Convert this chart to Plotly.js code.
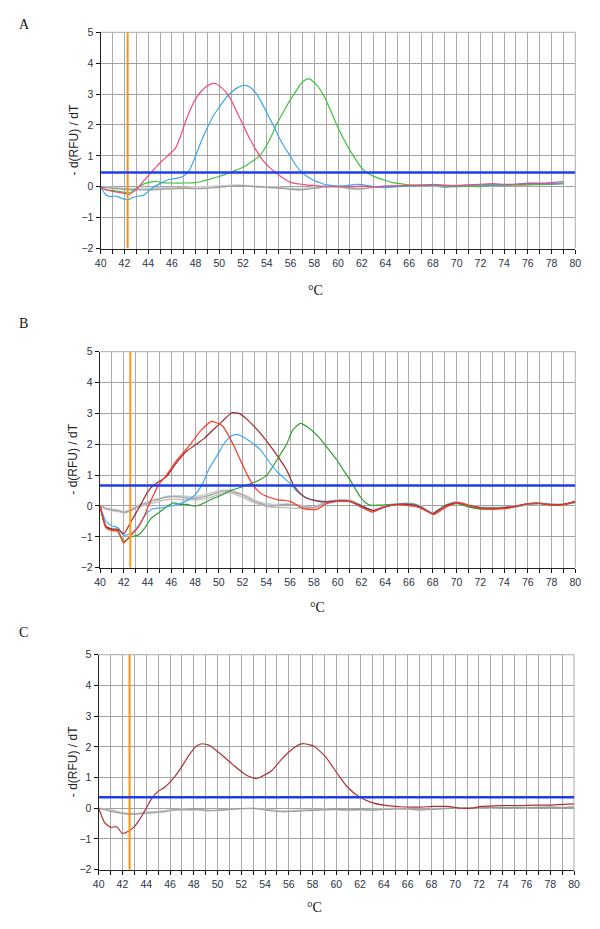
<!DOCTYPE html>
<html>
<head>
<meta charset="utf-8">
<script src="https://cdn.plot.ly/plotly-3.0.1.min.js"></script>
<style>html,body{margin:0;padding:0;background:#fff;}#chart{width:600px;height:929px;}</style>
</head>
<body>
<div id="chart"></div>
<script>
// ---------- Panel A ----------
const aPinkX = [40,40.4,41,41.5,42,42.4,42.8,43.2,43.7,44.2,44.7,45.2,45.8,46.3,46.7,47.0,47.5,48.0,48.5,49.0,49.4,49.8,50.2,50.6,51.0,51.5,52.0,52.5,53.0,53.4,53.9,54.4,54.8,55.3,56.0,56.5,57.0,57.5,58.0,58.5,59,60,61,62,63,64,65,66,67,68,69,70,71,72,73,74,75,76,77,78,79];
const aPinkY = [0,-0.1,-0.15,-0.18,-0.22,-0.25,-0.15,0,0.22,0.44,0.65,0.85,1.05,1.25,1.6,1.95,2.45,2.85,3.1,3.27,3.34,3.32,3.2,3.05,2.8,2.4,2.0,1.6,1.25,1.0,0.75,0.57,0.45,0.3,0.14,0.1,0.08,0.05,0.04,0.02,0.0,0.0,0.0,0.02,0.0,0.02,0.03,0.04,0.05,0.08,0.05,0.03,0.05,0.08,0.1,0.08,0.08,0.1,0.1,0.13,0.17];
const aBlueX = [40,40.4,40.8,41.2,41.6,42,42.3,42.7,43.2,43.6,44,44.5,45,45.5,46,46.5,47,47.5,48,48.5,49.1,49.5,50,50.5,51,51.5,52.1,52.6,53.1,53.6,54.1,54.6,55.0,55.5,56.0,56.4,56.9,57.4,57.9,58.4,58.9,59.5,60,61,61.5,62,63,64,65,66,67,68,69,70,71,72,73,74,75,76,77,78,79];
const aBlueY = [0,-0.25,-0.32,-0.3,-0.35,-0.4,-0.42,-0.35,-0.3,-0.28,-0.15,0,0.1,0.2,0.25,0.28,0.35,0.55,1.0,1.5,2.0,2.3,2.58,2.85,3.05,3.2,3.28,3.22,3.02,2.7,2.32,1.95,1.62,1.28,0.98,0.72,0.48,0.33,0.22,0.14,0.07,0.04,0.02,0.05,0.08,0.07,0.0,-0.03,0.0,0.03,0.04,0.05,0.03,0.03,0.05,0.06,0.07,0.05,0.08,0.12,0.12,0.1,0.12];
const aGreenX = [40,40.5,41,41.5,42,42.4,42.8,43.2,43.7,44.2,44.7,45.2,46,47,48,48.5,49,49.5,50,50.5,51,51.5,52,52.5,53,53.4,54,54.4,54.8,55.3,55.8,56.3,56.8,57.2,57.6,58.2,58.8,59.4,59.9,60.4,60.9,61.3,61.9,62.4,62.9,63.4,64,64.6,65.2,66,67,68,69,70,71,72,73,74,75,76,77,78,79];
const aGreenY = [0,-0.1,-0.12,-0.15,-0.18,-0.2,-0.12,0,0.1,0.15,0.17,0.13,0.12,0.12,0.13,0.17,0.22,0.28,0.33,0.4,0.47,0.55,0.63,0.75,0.88,1.0,1.35,1.65,2.0,2.35,2.7,3.0,3.3,3.45,3.49,3.3,2.95,2.45,2.0,1.6,1.25,1.0,0.65,0.46,0.36,0.28,0.2,0.13,0.1,0.06,0.05,0.05,0.02,0.0,0.02,0.0,0.05,0.05,0.06,0.06,0.07,0.08,0.1];
const aGrayX = [40,40.5,41,42,43,44,45,46,47,48,49,50,51,52,53,54,55,56,57,58,59,60,61,62,63,64,65,66,67,68,69,70,71,72,73,74,75,76,77,78,79];
const aGray1Y = [0,-0.03,-0.05,-0.08,-0.1,-0.1,-0.08,-0.07,-0.05,-0.06,-0.05,-0.02,0.02,0.03,0.0,-0.02,-0.04,-0.08,-0.1,-0.05,0.0,0.0,-0.04,-0.06,-0.02,0.0,0.02,0.03,0.02,0.04,-0.02,0.02,0.04,0.05,0.05,0.06,0.06,0.07,0.08,0.08,0.1];
const aGray2Y = [0,-0.01,-0.02,-0.05,-0.06,-0.05,-0.04,-0.03,-0.02,0.0,0.0,0.03,0.05,0.05,0.02,0.0,-0.02,-0.05,-0.06,0.0,0.02,0.03,-0.08,-0.08,0.0,0.01,0.03,0.04,0.03,0.05,0.0,0.05,0.05,0.06,0.05,0.06,0.07,0.08,0.1,0.1,0.12];
const aCursor = 42.27;
const aThreshold = 0.46;

// ---------- Panel B ----------
const bRedX = [40,40.5,41,41.5,42,42.6,43.2,43.7,44.07,44.5,44.9,45.6,46.5,47.6,48.5,49.4,50.3,51.2,51.8,52.4,52.9,53.4,53.9,54.5,55,55.5,56,56.5,57,57.7,58.3,59.1,60,61,61.9,62.9,63.9,65,66.1,67,68.1,69.2,70.2,71.2,72,73.1,74.3,75.1,76.2,77.1,78.2,79,80];
const bRedY = [0,-0.7,-0.8,-0.82,-1.2,-0.95,-0.7,-0.35,0,0.35,0.67,1.0,1.5,2.0,2.45,2.74,2.6,2.0,1.5,1.0,0.67,0.45,0.33,0.25,0.2,0.18,0.15,0.05,-0.07,-0.12,-0.1,0.08,0.15,0.15,-0.02,-0.2,-0.03,0.04,0.0,-0.07,-0.28,-0.02,0.1,0.0,-0.08,-0.1,-0.08,0.0,0.08,0.08,0.02,0.04,0.15];
const bMaroonX = [40,40.5,41,41.5,42,42.6,43.37,44,44.5,45,45.6,46.3,47.3,48.1,48.8,49.55,50.3,51.1,51.7,52.4,53.5,54.6,55.7,56.3,56.85,57.4,58.5,59.4,60,61,62,63,64,65,66,67,68,69,70,71,72,73,74,75,76,77,78,79,80];
const bMaroonY = [0,-0.65,-0.75,-0.75,-0.9,-0.51,0,0.45,0.67,0.8,0.95,1.33,1.78,2.0,2.2,2.48,2.75,3.02,3.0,2.8,2.35,1.8,1.17,0.67,0.41,0.25,0.14,0.14,0.16,0.15,0.0,-0.15,-0.03,0.05,0.05,-0.04,-0.25,0.0,0.1,0.02,-0.06,-0.08,-0.06,0.0,0.07,0.08,0.03,0.05,0.14];
const bBlueX = [40,40.5,41,41.5,42,42.6,43.3,43.8,44.4,45.3,46,46.5,47.2,48,48.6,49.2,49.8,50.4,51.0,51.5,52.0,52.6,53.5,54.2,54.9,55.5,56.0,56.5,57.2,58.0,59,60,61,62,63,64,65,66,67,68,69,70,71,72,73,74,75,76,77,78,79,80];
const bBlueY = [0,-0.5,-0.65,-0.7,-0.95,-0.9,-0.6,-0.3,-0.1,-0.05,0.0,0.05,0.15,0.36,0.7,1.22,1.6,2.0,2.25,2.32,2.25,2.1,1.82,1.45,1.11,0.9,0.73,0.5,0.3,0.19,0.15,0.18,0.17,0.02,-0.15,-0.02,0.05,0.06,-0.03,-0.25,0.0,0.1,0.02,-0.05,-0.07,-0.06,0.0,0.08,0.09,0.03,0.05,0.13];
const bGreenX = [40,40.5,41,41.5,42,42.6,43.2,43.7,44.3,45,45.7,46.2,46.8,47.3,48,48.5,49.3,50.2,51,51.8,52.5,53.2,54.05,54.9,55.7,56.2,56.85,57.5,58.5,59.2,59.94,60.5,61.06,61.5,61.9,62.3,62.7,63.6,64.5,65.5,66.5,67,68,69,70,71,72,73,74,75,76,77,78,79,80];
const bGreenY = [0,-0.7,-0.75,-0.8,-1.15,-1.0,-0.95,-0.75,-0.4,-0.2,0.0,0.1,0.05,0.05,0.0,0.05,0.2,0.35,0.5,0.6,0.7,0.8,1.0,1.5,2.0,2.45,2.68,2.55,2.19,1.85,1.49,1.15,0.84,0.55,0.3,0.12,0.03,0.03,0.05,0.05,0.05,-0.05,-0.24,0.0,0.08,-0.03,-0.1,-0.1,-0.07,-0.02,0.08,0.09,0.05,0.05,0.14];
const bGrayX = [40,40.5,41,41.5,42,42.5,43,43.5,44,44.5,45,45.5,46,46.5,47,47.5,48,48.5,49,49.5,50,50.5,51,51.5,52,52.5,53,53.5,54,54.5,55,55.5,56,56.5,57,57.5,58,58.5,59,60,61,61.5,62,62.5,63,63.5,64,65,66,66.5,67,67.5,68,68.5,69,69.5,70,70.5,71,71.5,72,73,74,75,76,77,78,79,80];
const bGray1Y = [0,-0.08,-0.12,-0.15,-0.2,-0.15,-0.05,0.05,0.1,0.18,0.22,0.28,0.3,0.3,0.28,0.25,0.25,0.28,0.32,0.38,0.45,0.48,0.48,0.42,0.35,0.25,0.15,0.08,0.02,0.0,0.02,0.05,0.05,0.03,0.0,-0.05,-0.05,0.02,0.1,0.17,0.17,0.1,-0.02,-0.1,-0.15,-0.08,0.0,0.05,0.08,0.05,-0.02,-0.15,-0.25,-0.15,0.0,0.08,0.12,0.08,0.02,-0.03,-0.06,-0.06,-0.05,-0.02,0.05,0.08,0.05,0.05,0.12];
const bGray2Y = [0,-0.1,-0.15,-0.18,-0.22,-0.18,-0.08,0.0,0.05,0.1,0.15,0.2,0.22,0.22,0.2,0.2,0.2,0.22,0.25,0.3,0.38,0.42,0.42,0.36,0.28,0.18,0.1,0.04,-0.02,-0.04,-0.05,-0.05,-0.07,-0.08,-0.05,-0.08,-0.06,0.0,0.08,0.15,0.15,0.08,-0.04,-0.12,-0.17,-0.1,-0.02,0.04,0.07,0.04,-0.03,-0.15,-0.27,-0.16,-0.02,0.07,0.11,0.07,0.0,-0.04,-0.08,-0.08,-0.06,-0.03,0.04,0.07,0.04,0.04,0.1];
const bGray3Y = [0,-0.06,-0.1,-0.13,-0.18,-0.12,-0.02,0.07,0.12,0.2,0.25,0.3,0.33,0.33,0.33,0.3,0.3,0.33,0.38,0.44,0.5,0.52,0.5,0.45,0.38,0.3,0.2,0.12,0.08,0.05,0.05,0.06,0.06,0.04,0.02,-0.02,-0.02,0.05,0.12,0.2,0.2,0.12,0.0,-0.08,-0.13,-0.06,0.02,0.07,0.1,0.07,0.0,-0.12,-0.22,-0.12,0.02,0.1,0.14,0.1,0.04,-0.01,-0.04,-0.04,-0.03,0.0,0.07,0.1,0.07,0.07,0.13];
const bCursor = 42.55;
const bThreshold = 0.66;

// ---------- Panel C ----------
const cRedX = [40,40.5,41,41.5,42,42.5,43,43.5,44,44.5,45,45.6,46.4,46.9,47.6,48.2,48.7,49.3,50,50.8,51.5,52.4,53.0,53.3,53.8,54.6,55.4,56.2,56.97,57.3,58.1,59.08,60.07,60.91,61.89,62.87,64.0,65.4,66.25,67.1,68.2,69.3,70.5,71.3,72.2,73.3,74.5,75.6,76.7,77.8,79.2,80];
const cRedY = [0,-0.47,-0.62,-0.6,-0.82,-0.75,-0.6,-0.33,0,0.35,0.55,0.7,1.03,1.3,1.73,2.02,2.1,2.05,1.85,1.59,1.35,1.08,0.99,0.97,1.05,1.24,1.6,1.9,2.09,2.1,2.03,1.68,1.14,0.7,0.38,0.2,0.1,0.05,0.04,0.04,0.06,0.06,0.0,0.0,0.06,0.08,0.09,0.09,0.1,0.1,0.13,0.14];
const cGrayX = [40,41,42,42.5,43,43.5,44,44.5,45,45.5,46,46.5,47,47.5,48,48.5,49,49.5,50,50.5,51,51.5,52,52.5,53,53.5,54,54.5,55,55.5,56,56.5,57,57.5,58,59,60,61,62,63,64,65,66,67,68,69,70,71,72,73,74,75,76,77,78,79,80];
const cGray1Y = [0,-0.1,-0.17,-0.2,-0.19,-0.18,-0.16,-0.15,-0.13,-0.12,-0.08,-0.05,-0.05,-0.05,-0.04,-0.03,-0.06,-0.08,-0.07,-0.06,-0.04,-0.02,-0.01,0.0,-0.01,-0.02,-0.05,-0.08,-0.1,-0.12,-0.11,-0.1,-0.09,-0.08,-0.07,-0.05,-0.04,-0.05,-0.04,-0.06,-0.04,-0.02,-0.02,-0.05,-0.04,-0.01,0.0,0.01,0.02,0.03,0.02,0.03,0.03,0.02,0.03,0.02,0.04];
const cGray2Y = [0,-0.05,-0.14,-0.16,-0.17,-0.15,-0.12,-0.11,-0.1,-0.08,-0.05,-0.04,-0.02,-0.03,-0.05,-0.07,-0.08,-0.07,-0.06,-0.05,-0.03,-0.02,-0.02,-0.01,0.0,-0.01,-0.03,-0.05,-0.07,-0.09,-0.08,-0.07,-0.06,-0.05,-0.04,-0.03,-0.05,-0.07,-0.06,-0.04,-0.02,0.0,-0.03,-0.06,-0.03,0.0,0.01,0.0,0.02,0.01,0.03,0.04,0.02,0.04,0.05,0.03,0.05];
const cCursor = 42.6;
const cThreshold = 0.36;

const xTickVals = [40,42,44,46,48,50,52,54,56,58,60,62,64,66,68,70,72,74,76,78,80];
const yTickVals = [-2,-1,0,1,2,3,4,5];

// ---------- build ----------
const traces = [];
function line(x, y, color, ax, width) {
  traces.push({type:'scatter', mode:'lines', x:x, y:y, xaxis:'x'+ax, yaxis:'y'+ax,
    line:{color:color, width:width||1.2, shape:'spline', smoothing:0.5}, hoverinfo:'skip', showlegend:false});
}
function marker(x, y, color, ax, width) {
  traces.push({type:'scatter', mode:'lines', x:x, y:y, xaxis:'x'+ax, yaxis:'y'+ax,
    line:{color:color, width:width}, hoverinfo:'skip', showlegend:false});
}
// A
line(aGrayX, aGray2Y, '#cccccc', '', 1.6);
line(aGrayX, aGray1Y, '#a0a0a0', '', 1.4);
line(aGreenX, aGreenY, '#3cc43c', '');
line(aBlueX, aBlueY, '#3aa6ee', '');
line(aPinkX, aPinkY, '#f0487a', '');
marker([aCursor, aCursor], [-2, 5], '#ff9010', '', 2);
marker([40, 80], [aThreshold, aThreshold], '#1f3cf0', '', 2.5);
// B
line(bGrayX, bGray2Y, '#c0c0c0', '2', 1.4);
line(bGrayX, bGray3Y, '#cccccc', '2', 1.4);
line(bGrayX, bGray1Y, '#a8a8a8', '2', 1.4);
line(bGreenX, bGreenY, '#2e9e2e', '2');
line(bBlueX, bBlueY, '#40aaf8', '2');
line(bMaroonX, bMaroonY, '#9c2b2b', '2');
line(bRedX, bRedY, '#ff3522', '2');
marker([bCursor, bCursor], [-2, 5], '#ff9a10', '2', 2);
marker([40, 80], [bThreshold, bThreshold], '#1f3cf0', '2', 2.5);
// C
line(cGrayX, cGray2Y, '#c4c4c4', '3', 1.4);
line(cGrayX, cGray1Y, '#9c9c9c', '3', 1.2);
line(cRedX, cRedY, '#ac3434', '3');
marker([cCursor, cCursor], [-2, 5], '#ff9010', '3', 2);
marker([40, 80], [cThreshold, cThreshold], '#1f3cf0', '3', 2.5);

const H = 929, W = 600;
const GRID = '#ababab';
function xa(l, r) {
  return {domain:[l/W, r/W], range:[40,80], tickmode:'array', tickvals:xTickVals,
    showgrid:true, gridcolor:GRID, gridwidth:1,
    minor:{dtick:1, tick0:40, showgrid:true, gridcolor:GRID, gridwidth:1, ticks:'outside', ticklen:4, tickcolor:'#111', tickwidth:1},
    ticks:'outside', ticklen:4, tickcolor:'#111', tickwidth:1,
    showline:true, linecolor:'#222', linewidth:1.5, zeroline:false,
    tickfont:{family:'Liberation Sans, Arial, sans-serif', size:10.5, color:'#2b3445'}, fixedrange:true};
}
function ya(t, b, anchor) {
  return {domain:[1-b/H, 1-t/H], range:[-2,5], tickmode:'array', tickvals:yTickVals, anchor:anchor,
    showgrid:true, gridcolor:'#a2a2a2', gridwidth:1, zeroline:false,
    ticks:'outside', ticklen:4, tickcolor:'#111', tickwidth:1,
    showline:true, linecolor:'#222', linewidth:1.2,
    tickfont:{family:'Liberation Sans, Arial, sans-serif', size:10.5, color:'#2b3445'}, fixedrange:true};
}
function border(ax) {
  const xr = 'x' + ax + ' domain', yr = 'y' + ax + ' domain';
  return [
    {type:'line', xref:xr, yref:yr, x0:0, x1:1, y0:1, y1:1, line:{color:GRID, width:1}, layer:'below'},
    {type:'line', xref:xr, yref:yr, x0:1, x1:1, y0:0, y1:1, line:{color:GRID, width:1}, layer:'below'}
  ];
}
const serif = {family:'Liberation Serif, Times New Roman, serif', size:14, color:'#111'};
const sans = {family:'Liberation Sans, Arial, sans-serif', size:12, color:'#222'};
function ann(text, x, y, font, extra) {
  return Object.assign({text:text, x:x/W, y:1-y/H, xref:'paper', yref:'paper', showarrow:false, font:font, xanchor:'center', yanchor:'middle'}, extra||{});
}
const layout = {
  width:W, height:H, margin:{l:0,r:0,t:0,b:0}, paper_bgcolor:'#fff', plot_bgcolor:'#fff', showlegend:false,
  xaxis: Object.assign(xa(100.7, 575.3), {anchor:'y'}),
  yaxis: ya(32.3, 248.5, 'x'),
  xaxis2: Object.assign(xa(100, 575.3), {anchor:'y2'}),
  yaxis2: ya(351.7, 567.7, 'x2'),
  xaxis3: Object.assign(xa(98.7, 574), {anchor:'y3'}),
  yaxis3: ya(654.7, 869.7, 'x3'),
  shapes: [].concat(border(''), border('2'), border('3')),
  annotations: [
    ann('A', 17, 24, serif, {xanchor:'left'}),
    ann('B', 17, 324, serif, {xanchor:'left'}),
    ann('C', 17, 632, serif, {xanchor:'left'}),
    ann('°C', 316, 291, serif),
    ann('°C', 317, 607, serif),
    ann('°C', 314, 907, serif),
    ann('- d(RFU) / dT', 74, 140.4, sans, {textangle:-90}),
    ann('- d(RFU) / dT', 73, 459.7, sans, {textangle:-90}),
    ann('- d(RFU) / dT', 73, 762.2, sans, {textangle:-90})
  ]
};
Plotly.newPlot('chart', traces, layout, {staticPlot:true, displayModeBar:false});
</script>
</body>
</html>
